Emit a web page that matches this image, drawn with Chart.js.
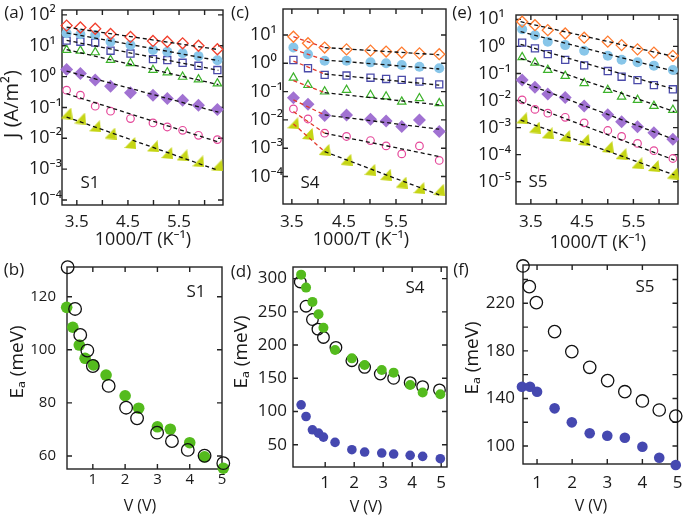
<!DOCTYPE html>
<html>
<head>
<meta charset="utf-8">
<script src="https://cdn.jsdelivr.net/npm/chart.js@4.4.1/dist/chart.umd.min.js"></script>
<style>
  html, body { margin: 0; padding: 0; background: #fff; }
  #wrap { position: relative; width: 685px; height: 517px; overflow: hidden; }
  #wrap canvas { position: absolute; left: 0; top: 0; }
</style>
</head>
<body>
<div id="wrap">
  <canvas id="pa" width="685" height="517"></canvas>
  <canvas id="pc" width="685" height="517"></canvas>
  <canvas id="pe" width="685" height="517"></canvas>
  <canvas id="pb" width="685" height="517"></canvas>
  <canvas id="pd" width="685" height="517"></canvas>
  <canvas id="pf" width="685" height="517"></canvas>
</div>
<script>
// ---- data ----
// 1000/T (K^-1) for the J vs T panels
const invT_S1 = [3.3, 3.57, 3.86, 4.16, 4.55, 4.99, 5.27, 5.57, 5.88, 6.25];
const invT_S4 = [3.53, 3.81, 4.13, 4.55, 5.01, 5.31, 5.61, 5.95, 6.33];
const invT_S5 = [3.33, 3.58, 3.83, 4.17, 4.54, 5.0, 5.27, 5.58, 5.9, 6.27];

// J (A/m^2), one curve per bias, highest first
const jS1_diamond = [45, 39, 35.6, 24, 19.3, 14.3, 13.5, 12, 10, 7.7];
const jS1_circle = [25.4, 23.6, 22.4, 13.5, 10.6, 7.3, 6.4, 5.7, 4.6, 3.4];
const jS1_square = [14.6, 13.5, 12.6, 6.9, 5.6, 3.7, 3.44, 2.8, 2.24, 1.63];
const jS1_triangle = [7.3, 6.9, 6.1, 3.44, 2.7, 1.63, 1.37, 0.98, 0.81, 0.6];
const jS1_solidDiamond = [1.71, 1.27, 0.77, 0.49, 0.30, 0.25, 0.195, 0.172, 0.118, 0.086];
const jS1_ring = [0.364, 0.25, 0.11, 0.0755, 0.0437, 0.0315, 0.0233, 0.0182, 0.0125, 0.0091];
const jS1_wedge = [0.0635, 0.0437, 0.0245, 0.0143, 0.00705, 0.0055, 0.00333, 0.0028, 0.00179, 0.00132];

const jS4_diamond = [8.7, 5.1, 3.6, 3.1, 2.8, 2.6, 2.4, 2.25, 2.1];
const jS4_circle = [3.6, 2.1, 1.24, 1.24, 1.08, 1.0, 0.87, 0.76, 0.67];
const jS4_square = [1.31, 0.67, 0.39, 0.37, 0.31, 0.28, 0.26, 0.225, 0.18];
const jS4_triangle = [0.31, 0.17, 0.1, 0.115, 0.076, 0.067, 0.044, 0.058, 0.039];
const jS4_solidDiamond = [0.061, 0.036, 0.0142, 0.015, 0.0106, 0.0092, 0.0058, 0.01, 0.0039];
const jS4_ring = [0.0244, 0.0108, 0.0034, 0.0026, 0.00187, 0.00121, 0.00063, 0.00121, 0.00037];
const jS4_wedge = [0.0076, 0.0032, 0.00087, 0.00039, 0.000172, 0.000115, 0.000061, 0.000039, 0.000034];

const jS5_diamond = [8.2, 6.1, 4.0, 3.0, 2.1, 1.5, 1.12, 0.78, 0.59, 0.45];
const jS5_circle = [4.3, 2.6, 1.5, 1.12, 0.69, 0.45, 0.32, 0.26, 0.195, 0.135];
const jS5_square = [1.38, 0.85, 0.52, 0.32, 0.2, 0.123, 0.076, 0.057, 0.037, 0.026];
const jS5_triangle = [0.4, 0.25, 0.135, 0.081, 0.044, 0.0245, 0.0138, 0.0105, 0.0063, 0.0045];
const jS5_solidDiamond = [0.057, 0.031, 0.0174, 0.0129, 0.0063, 0.003, 0.00166, 0.00107, 0.00065, 0.00037];
const jS5_ring = [0.0105, 0.0047, 0.0034, 0.0024, 0.0015, 0.00078, 0.00047, 0.00026, 0.00014, 0.000072];
const jS5_wedge = [0.0022, 0.001, 0.00062, 0.00049, 0.00035, 0.00019, 0.000105, 0.000048, 0.000038, 0.00002];

// Arrhenius fit lines: [start, end] J for each curve
const fitX_S1 = [3.3, 6.27];
const fitJ_S1 = [[40, 7.5], [26, 3.3], [15, 1.6], [7.5, 0.55], [1.5, 0.07], [0.28, 0.0076], [0.049, 0.00091]];
const fitX_S4_hot = [3.53, 4.13];
const fitJ_S4_hot = [[8.7, 3.6], [3.1, 1.31], [1.2, 0.42], [0.244, 0.092], [0.051, 0.015], [0.0197, 0.0034], [0.0072, 0.00076]];
const fitX_S4_cold = [4.13, 6.33];
const fitJ_S4_cold = [[3.6, 2.0], [1.31, 0.63], [0.42, 0.17], [0.092, 0.034], [0.015, 0.0047], [0.0034, 0.00051], [0.00076, 0.0000224]];
const fitX_S5 = [3.3, 6.3];
const fitJ_S5 = [[8.2, 0.42], [3.5, 0.12], [1.2, 0.026], [0.36, 0.0039], [0.05, 0.00036], [0.0091, 0.000063], [0.0019, 0.0000178]];

// activation energy Ea (meV) vs bias V (V)
const vS1_open = [0.22, 0.45, 0.61, 0.83, 1.0, 1.49, 2.03, 2.37, 2.99, 3.45, 3.94, 4.46, 5.04];
const eaS1_open = [131.1, 115.4, 105.6, 99.7, 93.9, 86.4, 78.2, 74.2, 68.8, 65.6, 62.3, 60.1, 57.3];
const vS1_green = [0.19, 0.38, 0.58, 0.76, 1.02, 1.41, 2.0, 2.42, 3.0, 3.4, 4.0, 4.46, 5.04];
const eaS1_green = [116.0, 108.5, 101.8, 96.8, 94.3, 90.5, 82.7, 78.0, 71.0, 70.1, 65.0, 59.7, 55.4];

const vS4_open = [0.14, 0.34, 0.56, 0.75, 0.94, 1.37, 1.92, 2.36, 2.9, 3.36, 3.93, 4.36, 4.94];
const eaS4_open = [295, 258.5, 238.5, 224, 211.5, 196.5, 176.5, 166.5, 156.5, 150, 143.5, 137.5, 132.5];
const vS4_filled = [0.17, 0.34, 0.56, 0.77, 0.94, 1.34, 1.92, 2.36, 2.95, 3.36, 3.93, 4.36, 4.97];
const eaS4_green = [306, 286.5, 265, 246.5, 226, 192.5, 180, 170, 162.5, 158.5, 140, 128.5, 126];
const eaS4_blue = [110, 92.5, 72.5, 67.5, 61.5, 53.5, 42.5, 39, 37.5, 36, 34, 32.5, 29];

const vS5_open = [0.6, 0.78, 0.98, 1.5, 1.99, 2.5, 3.01, 3.5, 4.0, 4.48, 4.95];
const eaS5_open = [251.4, 234.0, 220.6, 196.2, 179.4, 166.2, 155.0, 145.7, 137.9, 130.3, 125.2];
const vS5_blue = [0.57, 0.8, 1.0, 1.5, 1.99, 2.5, 3.0, 3.5, 4.0, 4.48, 4.95];
const eaS5_blue = [149.9, 149.9, 145.7, 131.7, 119.9, 110.7, 108.7, 107.0, 99.4, 90.2, 84.0];

// tick values
const invTTicks = [3.5, 4, 4.5, 5, 5.5, 6];
const invTLabelled = [3.5, 4.5, 5.5];
const jTicksS1 = [1e-4, 1e-3, 1e-2, 1e-1, 1, 10, 100];
const jTicksS4 = [1e-4, 1e-3, 1e-2, 1e-1, 1, 10];
const jTicksS5 = [1e-5, 1e-4, 1e-3, 1e-2, 1e-1, 1, 10];
const vTicks = [1, 2, 3, 4, 5];
const eaTicksS1 = [60, 80, 100, 120];
const eaTicksS4 = [50, 100, 150, 200, 250, 300];
const eaTicksS5 = [100, 120, 140, 160, 180, 200, 220, 240];
const eaLabelledS5 = [100, 140, 180, 220];

// ---- drawing ----
const FONT = "'Open Sans', 'Noto Sans', sans-serif";
const INK = '#1a1a1a';
Chart.defaults.font.family = FONT;
Chart.defaults.color = INK;

const SUP = {'-': '\u207B', '0': '\u2070', '1': '\u00B9', '2': '\u00B2', '3': '\u00B3', '4': '\u2074', '5': '\u2075', '6': '\u2076', '7': '\u2077', '8': '\u2078', '9': '\u2079'};
const decade = v => '10' + String(Math.round(Math.log10(v))).split('').map(c => SUP[c]).join('');

function wedge(size, color) {
  const c = document.createElement('canvas');
  c.width = size; c.height = size;
  const g = c.getContext('2d');
  g.fillStyle = color;
  g.beginPath();
  g.moveTo(size - 1.5, 0);
  g.lineTo(size, size);
  g.lineTo(0, size - 1);
  g.closePath();
  g.fill();
  return c;
}

const clear = 'rgba(0,0,0,0)';
function markerStyles(diamondColor) {
  return [
    { pointStyle: 'rectRot', pointRadius: 5.5, pointBackgroundColor: clear, pointBorderColor: diamondColor, pointBorderWidth: 1.3 },
    { pointStyle: 'circle', pointRadius: 5, pointBackgroundColor: '#88c6e9', pointBorderColor: '#88c6e9', pointBorderWidth: 0 },
    { pointStyle: 'rect', pointRadius: 5, pointBackgroundColor: clear, pointBorderColor: '#4a4aa9', pointBorderWidth: 1.3 },
    { pointStyle: 'triangle', pointRadius: 4.8, pointBackgroundColor: clear, pointBorderColor: '#3cb22a', pointBorderWidth: 1.2 },
    { pointStyle: 'rectRot', pointRadius: 6.5, pointBackgroundColor: '#a172d2', pointBorderColor: '#a172d2', pointBorderWidth: 0 },
    { pointStyle: 'circle', pointRadius: 3.8, pointBackgroundColor: clear, pointBorderColor: '#e5489a', pointBorderWidth: 1.2 },
    { pointStyle: wedge(12, '#c5d514'), pointRadius: 6 }
  ];
}

function pts(xs, ys) {
  return xs.map((x, i) => ({ x: x, y: ys[i] }));
}
function fitLine(xs, ends, color) {
  return { data: pts(xs, ends), showLine: true, borderColor: color, borderWidth: 1.3, borderDash: [4, 3], pointRadius: 0, clip: false };
}
function markers(xs, ys, style) {
  return Object.assign({ data: pts(xs, ys), showLine: false, clip: false }, style);
}

const framePlugin = {
  id: 'frame',
  beforeDatasetsDraw(chart, args, opts) {
    const { ctx, chartArea: a, scales: { x, y } } = chart;
    const len = opts.len || 5;
    ctx.save();
    ctx.strokeStyle = '#222';
    ctx.lineWidth = 1.4;
    ctx.strokeRect(a.left, a.top, a.right - a.left, a.bottom - a.top);
    ctx.beginPath();
    x.ticks.forEach(t => {
      const px = x.getPixelForValue(t.value);
      if (px <= a.left + 1 || px >= a.right - 1) return;
      ctx.moveTo(px, a.bottom); ctx.lineTo(px, a.bottom - len);
      ctx.moveTo(px, a.top); ctx.lineTo(px, a.top + len);
    });
    y.ticks.forEach(t => {
      const py = y.getPixelForValue(t.value);
      if (py <= a.top + 1 || py >= a.bottom - 1) return;
      ctx.moveTo(a.left, py); ctx.lineTo(a.left + len, py);
      ctx.moveTo(a.right, py); ctx.lineTo(a.right - len, py);
    });
    ctx.stroke();
    ctx.restore();
  }
};

const textPlugin = {
  id: 'texts',
  afterDraw(chart, args, opts) {
    const ctx = chart.ctx;
    (opts.items || []).forEach(it => {
      ctx.save();
      ctx.font = it.size + 'px ' + FONT;
      ctx.fillStyle = INK;
      ctx.textAlign = 'center';
      ctx.textBaseline = 'middle';
      ctx.translate(it.x, it.y);
      if (it.rot) ctx.rotate(it.rot);
      ctx.fillText(it.t, 0, 0);
      ctx.restore();
    });
  }
};

function zeroPad(s) {
  s.paddingLeft = 0; s.paddingRight = 0; s.paddingTop = 0; s.paddingBottom = 0;
}

function panel(id, p) {
  const W = 685, H = 517;
  new Chart(document.getElementById(id), {
    type: 'scatter',
    data: { datasets: p.datasets },
    options: {
      responsive: false,
      animation: false,
      events: [],
      layout: { padding: { left: p.padLeft, top: p.box.T, right: W - p.box.R, bottom: H - p.box.B - p.xBand } },
      scales: {
        x: {
          type: 'linear', min: p.x.min, max: p.x.max,
          grid: { display: false, drawTicks: false }, border: { display: false },
          ticks: { autoSkip: false, maxRotation: 0, padding: p.x.pad, font: { size: p.x.size }, color: INK, callback: p.x.label },
          afterBuildTicks: s => { s.ticks = p.x.ticks.map(v => ({ value: v })); },
          afterFit: s => { s.height = p.xBand; zeroPad(s); }
        },
        y: {
          type: p.y.type, min: p.y.min, max: p.y.max,
          grid: { display: false, drawTicks: false }, border: { display: false },
          ticks: { autoSkip: false, padding: p.y.pad, crossAlign: p.y.align, font: { size: p.y.size }, color: INK, callback: p.y.label },
          afterBuildTicks: s => { s.ticks = p.y.ticks.map(v => ({ value: v })); },
          afterFit: s => { s.width = p.box.L - p.padLeft; zeroPad(s); }
        }
      },
      plugins: {
        legend: { display: false },
        tooltip: { enabled: false },
        frame: { len: 5 },
        texts: { items: p.texts }
      }
    },
    plugins: [framePlugin, textPlugin]
  });
}

const invTLabel = v => invTLabelled.includes(v) ? v.toFixed(1) : '';
const TITLE_T = '1000/T (K\u207B\u00B9)';
const TITLE_E = 'E\u2090 (meV)';
const UP = -Math.PI / 2;

// (a) S1
{
  const st = markerStyles('#f23e2c');
  const series = [jS1_diamond, jS1_circle, jS1_square, jS1_triangle, jS1_solidDiamond, jS1_ring, jS1_wedge];
  const ds = fitJ_S1.map(e => fitLine(fitX_S1, e, '#111'));
  series.forEach((ys, i) => ds.push(markers(invT_S1, ys, st[i])));
  panel('pa', {
    box: { L: 62, T: 10, R: 223, B: 205 }, padLeft: 29, xBand: 40,
    x: { min: 3.21, max: 6.36, ticks: invTTicks, label: invTLabel, pad: 7, size: 17 },
    y: { type: 'logarithmic', min: 6.9e-5, max: 144, ticks: jTicksS1, label: decade, pad: 0, align: 'far', size: 18 },
    datasets: ds,
    texts: [
      { t: '(a)', x: 14, y: 13, size: 17 },
      { t: 'S1', x: 90, y: 183, size: 17 },
      { t: TITLE_T, x: 143, y: 240, size: 18 },
      { t: 'J (A/m\u00B2)', x: 12, y: 104, size: 20, rot: UP }
    ]
  });
}

// (c) S4
{
  const st = markerStyles('#ff7a2e');
  const series = [jS4_diamond, jS4_circle, jS4_square, jS4_triangle, jS4_solidDiamond, jS4_ring, jS4_wedge];
  const ds = fitJ_S4_hot.map(e => fitLine(fitX_S4_hot, e, '#e2392a'));
  fitJ_S4_cold.forEach(e => ds.push(fitLine(fitX_S4_cold, e, '#111')));
  series.forEach((ys, i) => ds.push(markers(invT_S4, ys, st[i])));
  panel('pc', {
    box: { L: 283, T: 9, R: 446, B: 204 }, padLeft: 250, xBand: 40,
    x: { min: 3.33, max: 6.46, ticks: invTTicks, label: invTLabel, pad: 8, size: 17 },
    y: { type: 'logarithmic', min: 1.07e-5, max: 83, ticks: jTicksS4, label: decade, pad: 0, align: 'far', size: 18 },
    datasets: ds,
    texts: [
      { t: '(c)', x: 240, y: 13, size: 17 },
      { t: 'S4', x: 310, y: 183, size: 17 },
      { t: TITLE_T, x: 361, y: 240, size: 18 }
    ]
  });
}

// (e) S5
{
  const st = markerStyles('#ff7a2e');
  const series = [jS5_diamond, jS5_circle, jS5_square, jS5_triangle, jS5_solidDiamond, jS5_ring, jS5_wedge];
  const ds = fitJ_S5.map(e => fitLine(fitX_S5, e, '#111'));
  series.forEach((ys, i) => ds.push(markers(invT_S5, ys, st[i])));
  panel('pe', {
    box: { L: 516, T: 15, R: 680, B: 204 }, padLeft: 478, xBand: 40,
    x: { min: 3.21, max: 6.37, ticks: invTTicks, label: invTLabel, pad: 8, size: 17 },
    y: { type: 'logarithmic', min: 1.5e-6, max: 14.5, ticks: jTicksS5, label: decade, pad: 0, align: 'far', size: 18 },
    datasets: ds,
    texts: [
      { t: '(e)', x: 462, y: 13, size: 17 },
      { t: 'S5', x: 538, y: 182, size: 17 },
      { t: TITLE_T, x: 598, y: 243, size: 18 }
    ]
  });
}

const openRing = r => ({ pointStyle: 'circle', pointRadius: r, pointBackgroundColor: clear, pointBorderColor: '#111', pointBorderWidth: 1.3 });
const solidDot = (r, c) => ({ pointStyle: 'circle', pointRadius: r, pointBackgroundColor: c, pointBorderColor: c, pointBorderWidth: 0 });
const GREEN = '#54bb1d';
const BLUE = '#4548b0';

// (b) S1
panel('pb', {
  box: { L: 67, T: 267, R: 222, B: 469 }, padLeft: 22, xBand: 30,
  x: { min: 0.2, max: 5.0, ticks: vTicks, label: v => String(v), pad: 2, size: 15 },
  y: { type: 'linear', min: 55.1, max: 131.2, ticks: eaTicksS1, label: v => String(v), pad: 11, align: 'near', size: 15 },
  datasets: [
    markers(vS1_open, eaS1_open, openRing(6.3)),
    markers(vS1_green, eaS1_green, solidDot(5.8, GREEN))
  ],
  texts: [
    { t: '(b)', x: 14, y: 270, size: 17 },
    { t: 'S1', x: 196, y: 292, size: 17 },
    { t: 'V (V)', x: 140, y: 506, size: 16 },
    { t: TITLE_E, x: 18, y: 362, size: 19, rot: UP }
  ]
});

// (d) S4
panel('pd', {
  box: { L: 293, T: 267, R: 447, B: 467 }, padLeft: 248, xBand: 30,
  x: { min: -0.11, max: 5.2, ticks: vTicks, label: v => String(v), pad: 6, size: 17 },
  y: { type: 'linear', min: 16.5, max: 317.5, ticks: eaTicksS4, label: v => String(v), pad: 6, align: 'near', size: 17 },
  datasets: [
    markers(vS4_filled, eaS4_green, solidDot(5, GREEN)),
    markers(vS4_open, eaS4_open, openRing(5.8)),
    markers(vS4_filled, eaS4_blue, solidDot(4.8, BLUE))
  ],
  texts: [
    { t: '(d)', x: 241, y: 272, size: 17 },
    { t: 'S4', x: 415, y: 288, size: 17 },
    { t: 'V (V)', x: 366, y: 507, size: 16 },
    { t: TITLE_E, x: 242, y: 352, size: 19, rot: UP }
  ]
});

// (f) S5
panel('pf', {
  box: { L: 523, T: 265, R: 679, B: 464 }, padLeft: 478, xBand: 30,
  x: { min: 0.6, max: 5.0, ticks: vTicks, label: v => String(v), pad: 9, size: 17 },
  y: { type: 'linear', min: 84.9, max: 252.2, ticks: eaTicksS5, label: v => eaLabelledS5.includes(v) ? String(v) : '', pad: 8, align: 'near', size: 17 },
  datasets: [
    markers(vS5_open, eaS5_open, openRing(6.2)),
    markers(vS5_blue, eaS5_blue, solidDot(5.3, BLUE))
  ],
  texts: [
    { t: '(f)', x: 461, y: 270, size: 17 },
    { t: 'S5', x: 645, y: 287, size: 17 },
    { t: 'V (V)', x: 591, y: 506, size: 16 },
    { t: TITLE_E, x: 473, y: 358, size: 19, rot: UP }
  ]
});
</script>
</body>
</html>
